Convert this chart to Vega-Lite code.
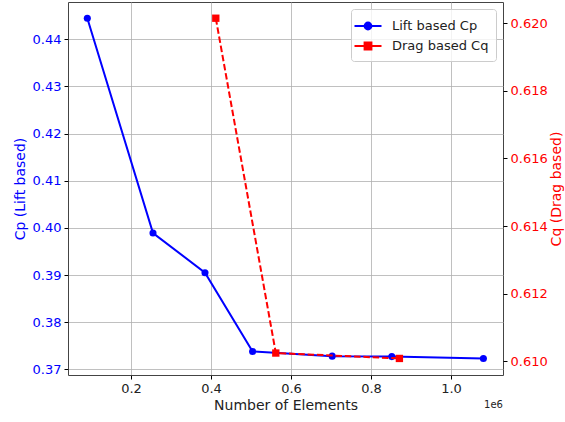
{
  "$schema": "https://vega.github.io/schema/vega-lite/v6.json",
  "width": 435,
  "height": 373,
  "autosize": "none",
  "padding": {"left": 68, "top": 2, "right": 62, "bottom": 47},
  "config": {
    "font": "DejaVu Sans",
    "view": {"stroke": "#444", "strokeWidth": 1},
    "axis": {
      "labelFontSize": 13,
      "titleFontSize": 14,
      "titleFontWeight": "normal",
      "tickSize": 4,
      "tickColor": "#000",
      "labelPadding": 3,
      "domain": false,
      "gridColor": "#b0b0b0",
      "gridWidth": 0.8
    }
  },
  "title": {
    "text": "1e6",
    "orient": "bottom",
    "anchor": "end",
    "frame": "group",
    "fontSize": 10,
    "fontWeight": "normal",
    "color": "#222",
    "offset": -12
  },
  "data": {
    "values": [
      {"n": 90800, "series": "Lift based Cp", "value": 0.44445},
      {"n": 255000, "series": "Lift based Cp", "value": 0.3989},
      {"n": 385000, "series": "Lift based Cp", "value": 0.3905},
      {"n": 504000, "series": "Lift based Cp", "value": 0.3738},
      {"n": 703000, "series": "Lift based Cp", "value": 0.3728},
      {"n": 852000, "series": "Lift based Cp", "value": 0.3727},
      {"n": 1081000, "series": "Lift based Cp", "value": 0.3723},
      {"n": 412000, "series": "Drag based Cq", "value": 0.62015},
      {"n": 562000, "series": "Drag based Cq", "value": 0.61024},
      {"n": 871000, "series": "Drag based Cq", "value": 0.61008}
    ]
  },
  "layer": [
    {
      "transform": [{"filter": "datum.series === 'Lift based Cp'"}],
      "encoding": {
        "x": {
          "field": "n",
          "type": "quantitative",
          "scale": {"domain": [42500, 1130000], "nice": false, "zero": false},
          "axis": {
            "values": [200000, 400000, 600000, 800000, 1000000],
            "labelExpr": "format(datum.value / 1000000, '.1f')",
            "title": "Number of Elements",
            "titleColor": "#222",
            "labelColor": "#222",
            "titlePadding": 3,
            "grid": true
          }
        },
        "y": {
          "field": "value",
          "type": "quantitative",
          "scale": {"domain": [0.3688, 0.4479], "nice": false, "zero": false},
          "axis": {
            "orient": "left",
            "values": [0.37, 0.38, 0.39, 0.40, 0.41, 0.42, 0.43, 0.44],
            "format": ".2f",
            "title": "Cp (Lift based)",
            "titleColor": "blue",
            "labelColor": "blue",
            "titlePadding": 5,
            "grid": true
          }
        }
      },
      "layer": [
        {"mark": {"type": "line", "color": "blue", "strokeWidth": 2}},
        {"mark": {"type": "point", "shape": "circle", "filled": true, "color": "blue", "opacity": 1, "size": 50}}
      ]
    },
    {
      "transform": [{"filter": "datum.series === 'Drag based Cq'"}],
      "encoding": {
        "x": {"field": "n", "type": "quantitative"},
        "y": {
          "field": "value",
          "type": "quantitative",
          "scale": {"domain": [0.60959, 0.62063], "nice": false, "zero": false},
          "axis": {
            "orient": "right",
            "values": [0.610, 0.612, 0.614, 0.616, 0.618, 0.620],
            "format": ".3f",
            "title": "Cq (Drag based)",
            "titleColor": "red",
            "labelColor": "red",
            "titleAngle": -90,
            "titleBaseline": "top",
            "titlePadding": 2,
            "grid": false
          }
        }
      },
      "layer": [
        {"mark": {"type": "line", "color": "red", "strokeWidth": 2, "strokeDash": [6.5, 2.8]}},
        {"mark": {"type": "point", "shape": "square", "filled": true, "color": "red", "opacity": 1, "size": 54}}
      ]
    },
    {
      "mark": {"type": "point", "filled": true, "opacity": 0},
      "encoding": {
        "color": {
          "field": "series",
          "type": "nominal",
          "scale": {"domain": ["Lift based Cp", "Drag based Cq"], "range": ["blue", "red"]},
          "legend": {
            "title": null,
            "orient": "top-right",
            "offset": 7,
            "padding": 7,
            "strokeColor": "#cccccc",
            "fillColor": "rgba(255,255,255,0.8)",
            "cornerRadius": 3,
            "labelFontSize": 13,
            "labelColor": "#222",
            "labelOffset": 14,
            "symbolSize": 324,
            "symbolStrokeWidth": 1.8,
            "symbolOpacity": 1,
            "rowPadding": 2,
            "encode": {
              "symbols": {
                "update": {
                  "stroke": {"scale": "color", "field": "value"},
                  "fill": {"scale": "color", "field": "value"},
                  "opacity": {"value": 1}
                }
              }
            }
          }
        },
        "shape": {
          "field": "series",
          "type": "nominal",
          "scale": {
            "domain": ["Lift based Cp", "Drag based Cq"],
            "range": [
              "M-1.5,0H1.5M-0.39,0A0.39,0.39 0 1,1 0.39,0A0.39,0.39 0 1,1 -0.39,0Z",
              "M-1.5,0H-0.45M0.45,0H1.5M-0.39,-0.39H0.39V0.39H-0.39Z"
            ]
          }
        }
      }
    }
  ],
  "resolve": {"scale": {"y": "independent"}}
}
